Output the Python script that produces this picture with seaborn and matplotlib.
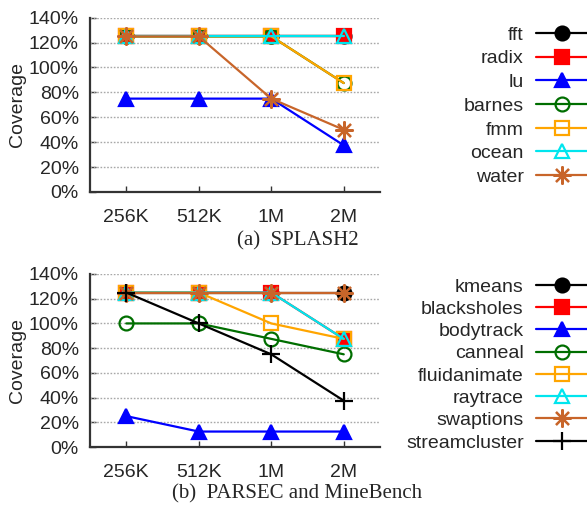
import numpy as np
import pandas as pd
import matplotlib
matplotlib.use("Agg")
import matplotlib.pyplot as plt
import seaborn as sns

sns.set_theme(style="white")
plt.rcParams['font.family'] = ['Liberation Sans', 'DejaVu Sans']

sizes = ["256K", "512K", "1M", "2M"]

splash_names = ["fft", "radix", "lu", "barnes", "fmm", "ocean", "water"]
fft = [125, 125, 125, 125]
radix = [125, 125, 125, 125]
lu = [75, 75, 75, 37.5]
barnes = [125, 125, 125, 87.5]
fmm = [125, 125, 125, 87.5]
ocean = [125, 125, 125, 125]
water = [125, 125, 75, 50]
splash_vals = [fft, radix, lu, barnes, fmm, ocean, water]

parsec_names = ["kmeans", "blacksholes", "bodytrack", "canneal", "fluidanimate",
                "raytrace", "swaptions", "streamcluster"]
kmeans = [125, 125, 125, 125]
blacksholes = [125, 125, 125, 87.5]
bodytrack = [25, 12.5, 12.5, 12.5]
canneal = [100, 100, 87.5, 75]
fluidanimate = [125, 125, 100, 87.5]
raytrace = [125, 125, 125, 87.5]
swaptions = [125, 125, 125, 125]
streamcluster = [125, 100, 75, 37.5]
parsec_vals = [kmeans, blacksholes, bodytrack, canneal, fluidanimate,
               raytrace, swaptions, streamcluster]

yticks = [0, 20, 40, 60, 80, 100, 120, 140]

# style for i-th series: (color, marker, filled, size)
styles = [
    ("#000000", "o", True, 10),
    ("#ff0000", "s", True, 10),
    ("#0000ff", "^", True, 10),
    ("#006e00", "o", False, 10),
    ("#ffa500", "s", False, 10),
    ("#00e5ee", "^", False, 10),
    ("#c8652a", (8, 2, 0), False, 13),
    ("#000000", "+", False, 13),
]

fig = plt.figure(figsize=(5.87, 5.08), dpi=100)
ax1 = fig.add_axes([90/587, 1-192/508, 290/587, 174.3/508])
ax2 = fig.add_axes([90/587, 1-447/508, 290/587, 173/508])

FS = 14

def draw(ax, names, vals, legend_top, spacing):
    rows = []
    for n, v in zip(names, vals):
        for s, y in zip(sizes, v):
            rows.append({"size": s, "bench": n, "cov": y})
    df = pd.DataFrame(rows)
    for i, n in enumerate(names):
        c, m, filled, ms = styles[i]
        sub = df[df["bench"] == n]
        kw = dict(color=c, marker=m, markersize=ms, linewidth=1.6,
                  markeredgewidth=1.6, markeredgecolor=c,
                  markerfacecolor=(c if filled else "none"))
        sns.lineplot(data=sub, x="size", y="cov", ax=ax, sort=False,
                     label=n, zorder=3 + i, **kw)
    ax.set_xlim(-0.5, 3.5)
    ax.set_ylim(0, 140)
    ax.set_yticks(yticks)
    ax.set_yticklabels([f"{t}%" for t in yticks])
    ax.set_xlabel("")
    ax.set_ylabel("Coverage", fontsize=FS, labelpad=2)
    for y in yticks[1:]:
        ax.axhline(y, color="#a8a8a8", linestyle=(0, (1.2, 1.2)),
                   linewidth=1.0, zorder=1)
    for sp in ["top", "right"]:
        ax.spines[sp].set_visible(False)
    for sp in ["left", "bottom"]:
        ax.spines[sp].set_color("#333333")
        ax.spines[sp].set_linewidth(1.6)
    ax.tick_params(axis="both", direction="in", length=4, width=1,
                   color="#333333", labelsize=FS, pad=8, left=True, bottom=True)
    ax.tick_params(axis="x", pad=12)
    h, l = ax.get_legend_handles_labels()
    ax.legend(h, l, loc="upper right", bbox_to_anchor=(1.0, legend_top),
              bbox_transform=fig.transFigure, frameon=False,
              markerfirst=False, fontsize=FS, handlelength=2.6,
              handletextpad=0.65, borderpad=0, borderaxespad=0,
              labelspacing=spacing)

draw(ax1, splash_names, splash_vals, 1 - 26/508, 0.315)
draw(ax2, parsec_names, parsec_vals, 1 - 278/508, 0.24)

fig.text(298/587, 1 - 241/508, "(a)  SPLASH2", ha="center", va="center",
         fontsize=15, family=["Liberation Serif", "DejaVu Serif"])
fig.text(297/587, 1 - 494/508, "(b)  PARSEC and MineBench", ha="center",
         va="center", fontsize=15, family=["Liberation Serif", "DejaVu Serif"])

fig.savefig("out.png", dpi=100)
